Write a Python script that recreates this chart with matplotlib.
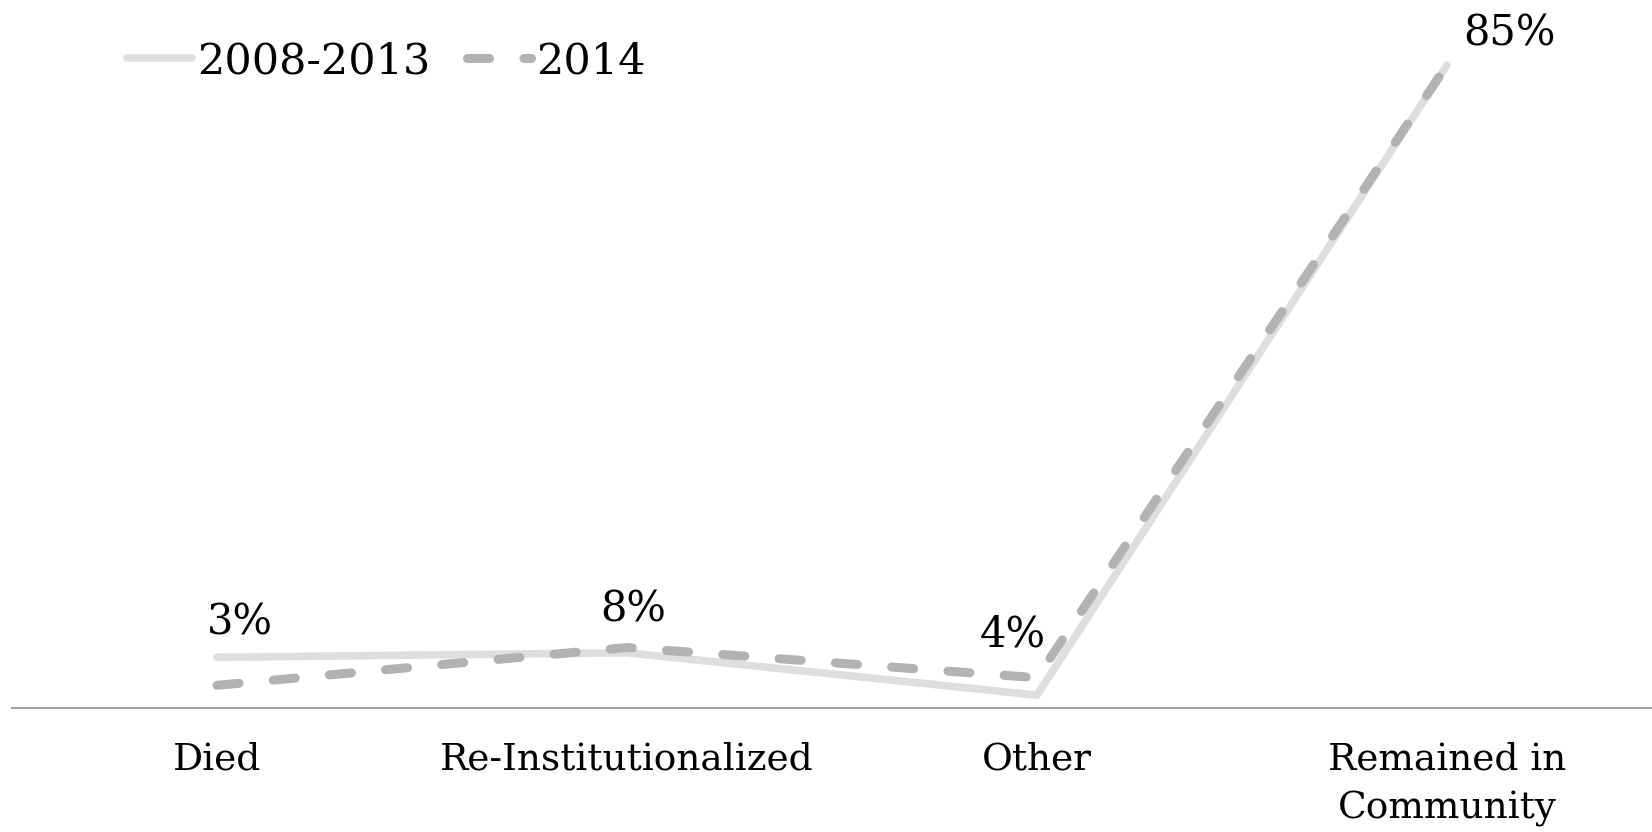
import matplotlib.pyplot as plt
import numpy as np

categories = ["Died", "Re-Institutionalized", "Other", "Remained in\nCommunity"]
series_2008_2013 = [6.7, 7.3, 1.7, 85]
series_2014 = [3, 8, 4, 85]
labels_2014 = ["3%", "8%", "4%", "85%"]

plt.rcParams['font.family'] = ['DejaVu Serif']

fig = plt.figure(figsize=(16.52, 8.32), dpi=100)
ax = fig.add_axes([12/1652, (832-708)/832, 1-12/1652, 708/832])

x = np.arange(len(categories))
ax.plot(x, series_2008_2013, color='#dedede', lw=5.5, solid_capstyle='round',
        solid_joinstyle='round', label='2008-2013')
ax.plot(x, series_2014, color='#b2b2b2', lw=6.5, dash_capstyle='round',
        dashes=(2.45, 3.8), label='2014')

ax.set_xlim(-0.5, 3.5)
ax.set_ylim(0, 93.6)
for s in ['top', 'right', 'left']:
    ax.spines[s].set_visible(False)
ax.spines['bottom'].set_color('#a0a0a0')
ax.spines['bottom'].set_linewidth(1.5)
ax.set_yticks([])
ax.set_xticks(x)
ax.set_xticklabels(categories, fontsize=27, linespacing=1.48)
ax.tick_params(axis='x', length=0, pad=24)

offsets = [(16.7, 45.5), (4.5, 27.5), (-17.5, 31), (44.8, 23)]
for xi, v, lab, off in zip(x, series_2014, labels_2014, offsets):
    ax.annotate(lab, (xi, v), xytext=off, textcoords='offset points',
                ha='center', va='center', fontsize=30)

leg = ax.legend(loc='center left', ncol=2, frameon=False,
                fontsize=31, handlelength=1.5, handletextpad=0.12,
                columnspacing=0.85, borderaxespad=0, borderpad=0)
leg.set_bbox_to_anchor((127/1652, 1 - 61/832), transform=fig.transFigure)

fig.savefig('out.png', dpi=100)
